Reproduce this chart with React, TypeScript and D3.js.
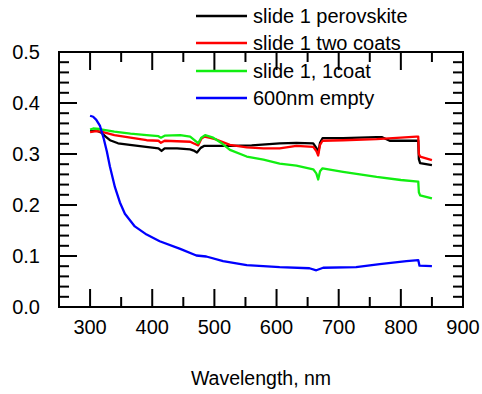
import React from "react";
import * as d3 from "d3";

const W = 482;
const H = 394;

// Data: [wavelength nm, value]
const perovskite: [number, number][] = [
  [300, 0.345], [310, 0.346], [318, 0.342], [325, 0.334], [332, 0.327], [345, 0.321], [364, 0.318],
  [390, 0.314], [410, 0.311], [415, 0.306], [420, 0.311], [440, 0.311], [461, 0.309], [468, 0.306],
  [472, 0.303], [478, 0.312], [484, 0.316], [525, 0.316], [560, 0.317], [605, 0.321], [632, 0.322],
  [659, 0.321], [664, 0.312], [667, 0.302], [670, 0.322], [674, 0.331], [707, 0.331], [761, 0.333],
  [770, 0.333], [782, 0.326], [828, 0.326], [829, 0.29], [831, 0.282], [850, 0.278],
];
const twoCoats: [number, number][] = [
  [300, 0.343], [310, 0.345], [318, 0.344], [339, 0.337], [365, 0.332], [391, 0.327], [410, 0.326],
  [414, 0.322], [420, 0.326], [440, 0.325], [461, 0.324], [468, 0.32], [474, 0.317], [479, 0.33],
  [484, 0.334], [495, 0.331], [504, 0.328], [525, 0.318], [552, 0.313], [579, 0.311], [605, 0.311],
  [632, 0.316], [659, 0.314], [664, 0.306], [667, 0.297], [670, 0.318], [674, 0.326], [707, 0.327],
  [761, 0.329], [800, 0.332], [825, 0.334], [828, 0.334], [829, 0.3], [831, 0.295], [850, 0.288],
];
const oneCoat: [number, number][] = [
  [300, 0.348], [305, 0.35], [315, 0.349], [339, 0.344], [365, 0.34], [391, 0.337], [410, 0.335],
  [414, 0.332], [420, 0.336], [445, 0.337], [461, 0.334], [468, 0.327], [474, 0.321], [479, 0.332],
  [485, 0.337], [498, 0.332], [512, 0.321], [525, 0.308], [552, 0.295], [579, 0.289], [605, 0.281],
  [632, 0.277], [659, 0.27], [664, 0.262], [667, 0.25], [670, 0.266], [674, 0.272], [707, 0.265],
  [761, 0.255], [800, 0.249], [828, 0.246], [829, 0.225], [831, 0.219], [850, 0.213],
];
const empty600: [number, number][] = [
  [300, 0.375], [305, 0.373], [310, 0.367], [316, 0.355], [322, 0.33], [327, 0.305], [332, 0.275],
  [340, 0.235], [348, 0.205], [356, 0.183], [372, 0.158], [391, 0.142], [412, 0.129], [445, 0.114],
  [471, 0.101], [487, 0.099], [514, 0.09], [552, 0.082], [605, 0.078], [653, 0.076], [664, 0.072],
  [675, 0.077], [728, 0.078], [766, 0.084], [809, 0.09], [828, 0.092], [830, 0.081], [850, 0.08],
];

const seriesNames = ["slide 1 perovskite", "slide 1 two coats", "slide 1, 1coat", "600nm empty"];
const seriesData = [perovskite, twoCoats, oneCoat, empty600];
const seriesColors = ["#000000", "#ff0000", "#11ee11", "#0000ff"];

const xTicks = [300, 400, 500, 600, 700, 800, 900];
const yTicks = [0.0, 0.1, 0.2, 0.3, 0.4, 0.5];
const xTitle = "Wavelength, nm";

const FONT = "'Liberation Sans', Arial, sans-serif";

export default function App() {
  const left = 59, right = 463, top = 52, bottom = 307;
  const x = d3.scaleLinear().domain([250, 900]).range([left, right]);
  const y = d3.scaleLinear().domain([0, 0.5]).range([bottom, top]);
  const line = d3.line<[number, number]>().x((d) => x(d[0])).y((d) => y(d[1]));

  const xMinor = d3.range(250, 901, 50);
  const yMinor = d3.range(0, 0.5001, 0.02);
  const isMajorX = (v: number) => v % 100 === 0;
  const isMajorY = (v: number) => Math.abs(v * 10 - Math.round(v * 10)) < 1e-6;

  const legendY = [16, 43, 71, 98];

  return (
    <svg width={W} height={H} style={{ position: "absolute", left: 0, top: 0, background: "#fff" }}>
      <rect x={0} y={0} width={W} height={H} fill="#fff" />
      {/* data */}
      {seriesData.map((s, i) => (
        <path key={i} d={line(s) || ""} fill="none" stroke={seriesColors[i]} strokeWidth={2.3} strokeLinejoin="round" />
      ))}
      {/* frame */}
      <rect x={left} y={top} width={right - left} height={bottom - top} fill="none" stroke="#000" strokeWidth={2} />
      {/* x ticks bottom & top */}
      {xMinor.map((v) => {
        const len = isMajorX(v) ? 18 : 10;
        if (v === 250 || v === 900) return null;
        return (
          <g key={"x" + v} stroke="#000" strokeWidth={2}>
            <line x1={x(v)} x2={x(v)} y1={bottom} y2={bottom - len} />
            <line x1={x(v)} x2={x(v)} y1={top} y2={top + len} />
          </g>
        );
      })}
      {/* y ticks left & right */}
      {yMinor.map((v, i) => {
        if (i === 0 || v > 0.499) return null;
        const len = isMajorY(v) ? 18 : 10;
        return (
          <g key={"y" + i} stroke="#000" strokeWidth={2}>
            <line x1={left} x2={left + len} y1={y(v)} y2={y(v)} />
            <line x1={right} x2={right - len} y1={y(v)} y2={y(v)} />
          </g>
        );
      })}
      {/* tick labels */}
      {xTicks.map((v) => (
        <text key={"xl" + v} x={x(v)} y={334} textAnchor="middle" fontFamily={FONT} fontSize={20} fill="#000">
          {v}
        </text>
      ))}
      {yTicks.map((v) => (
        <text key={"yl" + v} x={40} y={y(v) + 7} textAnchor="end" fontFamily={FONT} fontSize={20} fill="#000">
          {v.toFixed(1)}
        </text>
      ))}
      <text x={(left + right) / 2} y={385} textAnchor="middle" fontFamily={FONT} fontSize={19.5} fill="#000">
        {xTitle}
      </text>
      {/* legend */}
      {seriesNames.map((n, i) => (
        <g key={"lg" + i}>
          <line x1={196} x2={247} y1={legendY[i]} y2={legendY[i]} stroke={seriesColors[i]} strokeWidth={2.3} />
          <text x={253} y={legendY[i] + 7} fontFamily={FONT} fontSize={20} fill="#000">
            {n}
          </text>
        </g>
      ))}
    </svg>
  );
}
